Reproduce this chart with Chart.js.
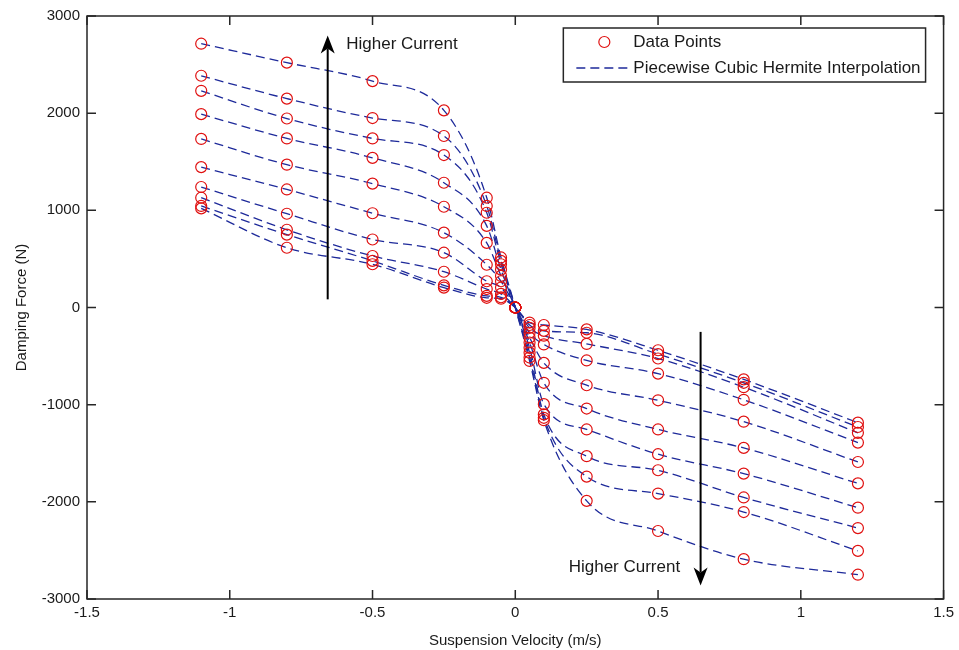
<!DOCTYPE html>
<html>
<head>
<meta charset="utf-8">
<title>Damping Force vs Suspension Velocity</title>
<script src="https://cdn.jsdelivr.net/npm/chart.js@4.4.0/dist/chart.umd.min.js"></script>
<style>
  html, body { margin: 0; padding: 0; background: #fff; }
  canvas { display: block; }
</style>
</head>
<body>
<canvas id="chart" width="959" height="650"></canvas>
<script>
// === DATA ===
// suspension velocity (m/s) where the force was measured
const velocity = [-1.1, -0.8, -0.5, -0.25, -0.1, -0.05, 0, 0.05, 0.1, 0.25, 0.5, 0.8, 1.2];

// damping force (N), one curve per current level (lowest current first)
const force1 = [1020, 615, 445, 205, 100, 90, 0, -155, -180, -225, -440, -740, -1185];
const force2 = [1045, 750, 480, 228, 120, 105, 0, -180, -240, -260, -480, -775, -1230];
const force3 = [1130, 800, 530, 368, 190, 140, 0, -210, -290, -375, -525, -820, -1290];
const force4 = [1240, 965, 700, 564, 270, 205, 0, -260, -380, -545, -680, -950, -1390];
const force5 = [1445, 1215, 970, 770, 440, 270, 0, -310, -570, -800, -955, -1175, -1590];
const force6 = [1735, 1470, 1275, 1037, 665, 325, 0, -360, -775, -1040, -1255, -1445, -1810];
const force7 = [1990, 1740, 1540, 1284, 840, 390, 0, -415, -995, -1255, -1510, -1710, -2060];
const force8 = [2230, 1945, 1740, 1569, 975, 445, 0, -465, -1100, -1530, -1675, -1955, -2270];
const force9 = [2385, 2150, 1950, 1765, 1045, 480, 0, -515, -1135, -1740, -1915, -2105, -2505];
const force10 = [2715, 2520, 2330, 2029, 1130, 515, 0, -550, -1160, -1990, -2300, -2590, -2750];
const curves = [force1, force2, force3, force4, force5, force6, force7, force8, force9, force10];

const xTicks = [-1.5, -1, -0.5, 0, 0.5, 1, 1.5];
const yTicks = [-3000, -2000, -1000, 0, 1000, 2000, 3000];

const legendLabels = ["Data Points", "Piecewise Cubic Hermite Interpolation"];
const arrowLabel = "Higher Current";

// === STYLE ===
const RED = "#e01010";
const BLUE = "#1e2a9a";
const INK = "#1a1a1a";
const FONT = "'Liberation Sans', Arial, sans-serif";

// === DATASETS ===
// points first so they are drawn over the dashed curves
const pointSets = curves.map(c => ({
  data: velocity.map((v, j) => ({ x: v, y: c[j] })),
  showLine: false,
  pointRadius: 5.5,
  pointStyle: "circle",
  pointBorderColor: RED,
  pointBackgroundColor: "rgba(255,255,255,0)",
  pointBorderWidth: 1.2,
  borderColor: RED
}));

const lineSets = curves.map(c => ({
  data: velocity.map((v, j) => ({ x: v, y: c[j] })),
  pointRadius: 0,
  borderColor: BLUE,
  borderWidth: 1.3,
  borderDash: [9, 5],
  cubicInterpolationMode: "monotone",
  fill: false
}));

// === PLUGINS ===
// box around the plot with inward ticks (matlab look)
const axesBox = {
  id: "axesBox",
  afterDatasetsDraw(chart) {
    const { ctx, chartArea: a, scales } = chart;
    const len = 9;
    ctx.save();
    ctx.strokeStyle = "#262626";
    ctx.lineWidth = 1.5;
    ctx.strokeRect(a.left, a.top, a.right - a.left, a.bottom - a.top);
    ctx.beginPath();
    xTicks.forEach(v => {
      const px = scales.x.getPixelForValue(v);
      ctx.moveTo(px, a.bottom); ctx.lineTo(px, a.bottom - len);
      ctx.moveTo(px, a.top); ctx.lineTo(px, a.top + len);
    });
    yTicks.forEach(v => {
      const py = scales.y.getPixelForValue(v);
      ctx.moveTo(a.left, py); ctx.lineTo(a.left + len, py);
      ctx.moveTo(a.right, py); ctx.lineTo(a.right - len, py);
    });
    ctx.stroke();
    ctx.restore();
  }
};

function drawArrow(ctx, x, yFrom, yTip) {
  const dir = yTip < yFrom ? 1 : -1; // 1 = pointing up
  const headLen = 18, headHalf = 7, notch = 5;
  ctx.beginPath();
  ctx.moveTo(x, yFrom);
  ctx.lineTo(x, yTip + dir * (headLen - notch));
  ctx.stroke();
  ctx.beginPath();
  ctx.moveTo(x, yTip);
  ctx.lineTo(x - headHalf, yTip + dir * headLen);
  ctx.lineTo(x, yTip + dir * (headLen - notch));
  ctx.lineTo(x + headHalf, yTip + dir * headLen);
  ctx.closePath();
  ctx.fill();
}

// "Higher Current" arrows, placed in data units
const annotations = {
  id: "annotations",
  afterDatasetsDraw(chart) {
    const { ctx, scales: { x, y } } = chart;
    ctx.save();
    ctx.strokeStyle = "#000";
    ctx.fillStyle = "#000";
    ctx.lineWidth = 2;
    drawArrow(ctx, x.getPixelForValue(-0.657), y.getPixelForValue(84), y.getPixelForValue(2800));
    drawArrow(ctx, x.getPixelForValue(0.649), y.getPixelForValue(-251), y.getPixelForValue(-2860));
    ctx.font = "17px " + FONT;
    ctx.textAlign = "left";
    ctx.textBaseline = "middle";
    ctx.fillStyle = INK;
    ctx.fillText(arrowLabel, x.getPixelForValue(-0.592), y.getPixelForValue(2707));
    ctx.fillText(arrowLabel, x.getPixelForValue(0.187), y.getPixelForValue(-2669));
    ctx.restore();
  }
};

// legend box inside the plot, top right
const legendBox = {
  id: "legendBox",
  afterDraw(chart) {
    const { ctx, chartArea: a } = chart;
    ctx.save();
    ctx.font = "17px " + FONT;
    const textW = Math.max(...legendLabels.map(t => ctx.measureText(t).width));
    const right = a.right - 18;
    const top = a.top + 12;
    const w = 70 + textW + 5;
    const h = 54;
    const left = right - w;
    ctx.fillStyle = "#fff";
    ctx.fillRect(left, top, w, h);
    ctx.strokeStyle = "#262626";
    ctx.lineWidth = 1.5;
    ctx.strokeRect(left, top, w, h);

    const row1 = top + 14, row2 = top + 40;
    // marker
    ctx.strokeStyle = RED;
    ctx.lineWidth = 1.2;
    ctx.beginPath();
    ctx.arc(left + 41, row1, 5.5, 0, Math.PI * 2);
    ctx.stroke();
    // dashed sample
    ctx.strokeStyle = BLUE;
    ctx.lineWidth = 1.3;
    ctx.setLineDash([9, 5]);
    ctx.beginPath();
    ctx.moveTo(left + 13, row2);
    ctx.lineTo(left + 68, row2);
    ctx.stroke();
    ctx.setLineDash([]);

    ctx.fillStyle = INK;
    ctx.textAlign = "left";
    ctx.textBaseline = "middle";
    ctx.fillText(legendLabels[0], left + 70, row1);
    ctx.fillText(legendLabels[1], left + 70, row2);
    ctx.restore();
  }
};

// === CHART ===
const tickFont = { family: FONT, size: 15 };

new Chart(document.getElementById("chart"), {
  type: "line",
  data: { datasets: [...pointSets, ...lineSets] },
  options: {
    responsive: false,
    devicePixelRatio: 1,
    animation: false,
    events: [],
    layout: { padding: { top: 13, right: 13, left: 0, bottom: 0 } },
    plugins: {
      legend: { display: false },
      tooltip: { enabled: false }
    },
    scales: {
      x: {
        type: "linear",
        min: -1.5,
        max: 1.5,
        afterBuildTicks: s => { s.ticks = xTicks.map(v => ({ value: v })); },
        afterFit: s => { s.height = 51; },
        grid: { display: false, drawTicks: false },
        border: { display: false },
        ticks: { font: tickFont, color: INK, padding: 5, maxRotation: 0, autoSkip: false, callback: v => String(v) },
        title: { display: true, text: "Suspension Velocity (m/s)", font: tickFont, color: INK, padding: { top: 5, bottom: 0 } }
      },
      y: {
        type: "linear",
        min: -3000,
        max: 3000,
        afterBuildTicks: s => { s.ticks = yTicks.map(v => ({ value: v })); },
        afterFit: s => { s.width = 87; },
        grid: { display: false, drawTicks: false },
        border: { display: false },
        ticks: { font: tickFont, color: INK, padding: 7, autoSkip: false, callback: v => String(v) },
        title: { display: true, text: "Damping Force (N)", font: tickFont, color: INK, padding: { top: 13, bottom: 0 } }
      }
    }
  },
  plugins: [axesBox, annotations, legendBox]
});
</script>
</body>
</html>
